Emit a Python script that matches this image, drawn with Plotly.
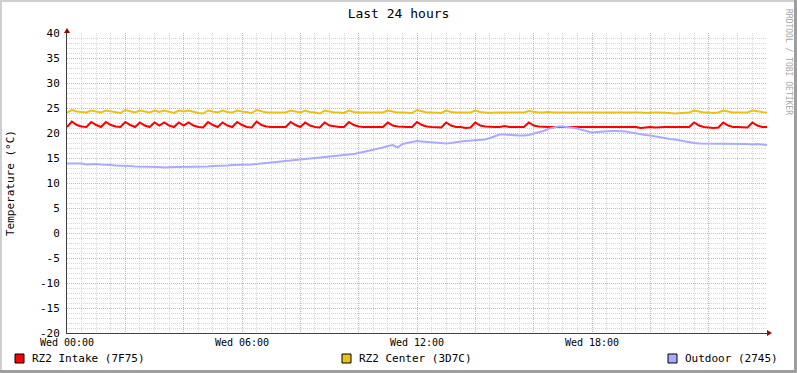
import plotly.graph_objects as go
from datetime import datetime, timedelta

# ---------------- data (10-minute samples, Wed 00:00 .. Thu 00:00) ----------------
start = datetime(2024, 1, 3, 0, 0)  # a Wednesday
times = [start + timedelta(minutes=10 * i) for i in range(145)]

intake = [
    21.2, 22.3, 21.6, 21.3, 21.2, 22.2, 21.6, 21.2, 22.2, 21.6, 21.3, 21.2,
    22.2, 21.6, 21.2, 22.1, 21.5, 21.2, 22.1, 21.5, 22.1, 21.5, 21.2, 22.1,
    21.5, 22.1, 21.5, 21.2, 21.1, 22.2, 21.6, 21.2, 22.1, 21.5, 21.2, 22.2,
    21.6, 21.2, 21.1, 22.3, 21.6, 21.3, 21.2, 21.2, 21.1, 21.2, 22.2, 21.6,
    21.2, 22.1, 21.5, 21.2, 21.1, 22.1, 21.5, 21.3, 21.2, 21.2, 22.2, 21.6,
    21.3, 21.2, 21.2, 21.1, 21.2, 21.2, 22.1, 21.5, 21.3, 21.2, 21.2, 21.2,
    22.2, 21.6, 21.3, 21.2, 21.2, 21.1, 22.1, 21.5, 21.2, 21.2, 21.0, 21.1,
    22.1, 21.5, 21.3, 21.2, 21.2, 21.2, 21.4, 21.2, 21.2, 21.2, 21.2, 22.1,
    21.5, 21.3, 21.2, 21.2, 21.2, 21.2, 21.2, 21.2, 21.2, 21.2, 21.2, 21.2,
    21.2, 21.2, 21.2, 21.2, 21.2, 21.1, 21.2, 21.2, 21.2, 21.2, 21.0, 21.1,
    21.2, 21.1, 21.2, 21.2, 21.2, 21.2, 21.2, 21.2, 21.2, 22.1, 21.5, 21.2,
    21.1, 21.0, 21.1, 22.1, 21.5, 21.2, 21.2, 21.2, 21.1, 22.1, 21.5, 21.2,
    21.2,
]

center = [
    24.1, 24.6, 24.3, 24.2, 24.1, 24.5, 24.3, 24.1, 24.5, 24.3, 24.1, 24.0,
    24.6, 24.3, 24.1, 24.5, 24.3, 24.1, 24.5, 24.2, 24.5, 24.2, 24.0, 24.5,
    24.3, 24.5, 24.2, 24.0, 23.9, 24.5, 24.3, 24.1, 24.5, 24.2, 24.1, 24.5,
    24.3, 24.1, 24.0, 24.6, 24.3, 24.1, 24.1, 24.1, 24.0, 24.1, 24.5, 24.3,
    24.1, 24.5, 24.2, 24.1, 23.9, 24.5, 24.3, 24.1, 24.1, 24.0, 24.5, 24.2,
    24.1, 24.1, 24.0, 24.0, 24.1, 24.1, 24.5, 24.3, 24.1, 24.1, 24.1, 24.0,
    24.6, 24.3, 24.1, 24.1, 24.0, 24.0, 24.5, 24.2, 24.1, 24.1, 24.0, 24.1,
    24.5, 24.2, 24.1, 24.0, 24.1, 24.1, 24.2, 24.1, 24.1, 24.1, 24.1, 24.4,
    24.2, 24.1, 24.1, 24.2, 24.1, 24.1, 24.1, 24.2, 24.1, 24.1, 24.1, 24.2,
    24.1, 24.1, 24.1, 24.1, 24.1, 24.1, 24.1, 24.1, 24.2, 24.1, 24.1, 24.0,
    24.1, 24.1, 24.1, 24.1, 24.0, 23.9, 24.0, 24.1, 24.1, 24.5, 24.3, 24.1,
    24.1, 24.0, 24.1, 24.5, 24.3, 24.1, 24.1, 24.1, 24.1, 24.5, 24.3, 24.2,
    24.1,
]

outdoor = [
    13.9, 13.9, 13.8, 13.9, 13.7, 13.8,
    13.8, 13.7, 13.7, 13.6, 13.5, 13.5,
    13.4, 13.4, 13.3, 13.3, 13.3, 13.2,
    13.2, 13.2, 13.1, 13.2, 13.2, 13.2,
    13.2, 13.3, 13.2, 13.3, 13.3, 13.3,
    13.4, 13.4, 13.5, 13.5, 13.6, 13.6,
    13.6, 13.7, 13.7, 13.8, 13.9, 13.9,
    14.0, 14.1, 14.3, 14.4, 14.5, 14.6,
    14.7, 14.8, 14.9, 15.0, 15.1, 15.2,
    15.3, 15.4, 15.5, 15.5, 15.7, 15.8,
    16.0, 16.2, 16.4, 16.7, 16.9, 17.1,
    17.4, 17.6, 17.1, 17.8, 18.0, 18.2,
    18.4, 18.3, 18.2, 18.1, 18.0, 17.9,
    17.9, 18.0, 18.2, 18.3, 18.4, 18.5,
    18.6, 18.6, 18.7, 19.0, 19.4, 19.7,
    19.7, 19.6, 19.6, 19.5, 19.5, 19.6,
    19.9, 20.1, 20.4, 20.8, 21.1, 21.3,
    21.3, 21.2, 21.0, 20.9, 20.6, 20.3,
    20.1, 20.2, 20.3, 20.3, 20.4, 20.4,
    20.4, 20.3, 20.1, 19.9, 19.7, 19.6,
    19.5, 19.3, 19.1, 19.0, 18.8, 18.7,
    18.5, 18.3, 18.2, 18.0, 17.9, 17.9,
    17.9, 17.9, 17.9, 17.8, 17.8, 17.8,
    17.8, 17.8, 17.8, 17.7, 17.8, 17.7,
    17.6,
]

series_names = ["RZ2 Intake (7F75)", "RZ2 Center (3D7C)", "Outdoor (2745)"]
series_colors = ["#FF0000", "#EAC117", "#AAAAFF"]

tick_hours = [0, 2, 4, 6, 8, 10, 12, 14, 16, 18, 20, 22]
tick_labels = ["Wed 00:00", "", "", "Wed 06:00", "", "", "Wed 12:00", "", "",
               "Wed 18:00", "", ""]
y_ticks = [-20, -15, -10, -5, 0, 5, 10, 15, 20, 25, 30, 35, 40]

# ---------------- layout geometry (pixels) ----------------
W, H = 797, 373
L, R, T, B = 67, 767, 33, 333
PW, PH = R - L, B - T
FONT = "DejaVu Sans Mono"
MINOR_GRID = "#D6D6D6"
MAJOR_GRID = "#E8A8A8"


def px(x):
    return (x - L) / PW


def py(y):
    return (B - y) / PH


fig = go.Figure()
for vals, name, col in zip([intake, center, outdoor], series_names, series_colors):
    fig.add_trace(go.Scatter(x=times, y=vals, mode="lines", name=name,
                             line=dict(color=col, width=2, shape="linear"),
                             showlegend=False, hoverinfo="skip"))

shapes = []
annotations = []

# outer 3D border
shapes += [
    dict(type="rect", xref="paper", yref="paper", x0=px(0), x1=px(W), y0=py(0), y1=py(2),
         fillcolor="#CFCFCF", line=dict(width=0), layer="above"),
    dict(type="rect", xref="paper", yref="paper", x0=px(0), x1=px(2), y0=py(0), y1=py(H),
         fillcolor="#CFCFCF", line=dict(width=0), layer="above"),
    dict(type="rect", xref="paper", yref="paper", x0=px(W - 3), x1=px(W), y0=py(0), y1=py(H),
         fillcolor="#9E9E9E", line=dict(width=0), layer="above"),
    dict(type="rect", xref="paper", yref="paper", x0=px(0), x1=px(W), y0=py(H - 3), y1=py(H),
         fillcolor="#9E9E9E", line=dict(width=0), layer="above"),
]

# axis arrows
shapes += [
    dict(type="path", xref="paper", yref="paper", layer="above",
         path=f"M {px(R)} {py(B-3)} L {px(R+5)} {py(B)} L {px(R)} {py(B+3)} Z",
         fillcolor="#9A0000", line=dict(width=0)),
    dict(type="path", xref="paper", yref="paper", layer="above",
         path=f"M {px(L-3)} {py(T)} L {px(L)} {py(T-5)} L {px(L+3)} {py(T)} Z",
         fillcolor="#9A0000", line=dict(width=0)),
    dict(type="line", xref="paper", yref="paper", layer="above",
         x0=px(R), x1=px(R + 3), y0=0, y1=0, line=dict(color="#404040", width=1)),
]

# legend (squares + text)
legend_sq_x = [15, 342, 668]
legend_tx_x = [30, 357, 683]
for sx, tx, name, col in zip(legend_sq_x, legend_tx_x, series_names, series_colors):
    shapes.append(dict(type="rect", xref="paper", yref="paper",
                       x0=px(sx), x1=px(sx + 9), y0=py(363), y1=py(354),
                       fillcolor=col, line=dict(color="#000000", width=1)))
    annotations.append(dict(xref="paper", yref="paper", x=px(tx), y=py(358.5),
                            xanchor="left", yanchor="middle", showarrow=False,
                            text=name, font=dict(family=FONT, size=11, color="#000000")))

# y axis title
annotations.append(dict(xref="paper", yref="paper", x=px(10), y=py(183),
                        xanchor="center", yanchor="middle", showarrow=False, textangle=-90,
                        text="Temperature (°C)", font=dict(family=FONT, size=11, color="#000000")))
# watermark
annotations.append(dict(xref="paper", yref="paper", x=px(789), y=py(62),
                        xanchor="center", yanchor="middle", showarrow=False, textangle=90,
                        text="RRDTOOL / TOBI OETIKER", font=dict(family=FONT, size=8, color="#A8A8A8")))

fig.update_layout(
    width=W, height=H,
    margin=dict(l=L, r=W - R, t=T, b=H - B, pad=0),
    paper_bgcolor="#FFFFFF", plot_bgcolor="#FFFFFF",
    font=dict(family=FONT, size=10, color="#000000"),
    title=dict(text="Last 24 hours", x=0.5, xref="container", xanchor="center",
               y=1 - 13 / H, yref="container", yanchor="middle",
               font=dict(family=FONT, size=13, color="#000000")),
    shapes=shapes, annotations=annotations,
    showlegend=False,
)

fig.update_xaxes(
    type="date",
    range=[start, start + timedelta(hours=24)],
    tickvals=[start + timedelta(hours=h) for h in tick_hours],
    ticktext=tick_labels,
    ticks="", showline=True, linecolor="#404040", linewidth=1,
    showgrid=True, gridcolor=MAJOR_GRID, griddash="1px,1px", gridwidth=1,
    minor=dict(dtick=30 * 60 * 1000, tick0=start, showgrid=True,
               gridcolor=MINOR_GRID, griddash="1px,1px", gridwidth=1),
    tickfont=dict(family=FONT, size=10, color="#000000"),
    zeroline=False, fixedrange=True,
)
fig.update_yaxes(
    range=[-20, 40], tickvals=y_ticks, ticktext=[str(v) for v in y_ticks],
    ticks="", ticklabelstandoff=4,
    showline=True, linecolor="#404040", linewidth=1,
    showgrid=True, gridcolor=MAJOR_GRID, griddash="1px,1px", gridwidth=1,
    minor=dict(dtick=1, tick0=0, showgrid=True,
               gridcolor=MINOR_GRID, griddash="1px,1px", gridwidth=1),
    tickfont=dict(family=FONT, size=11, color="#000000"),
    zeroline=False, fixedrange=True,
)

fig.write_html("out.html")
